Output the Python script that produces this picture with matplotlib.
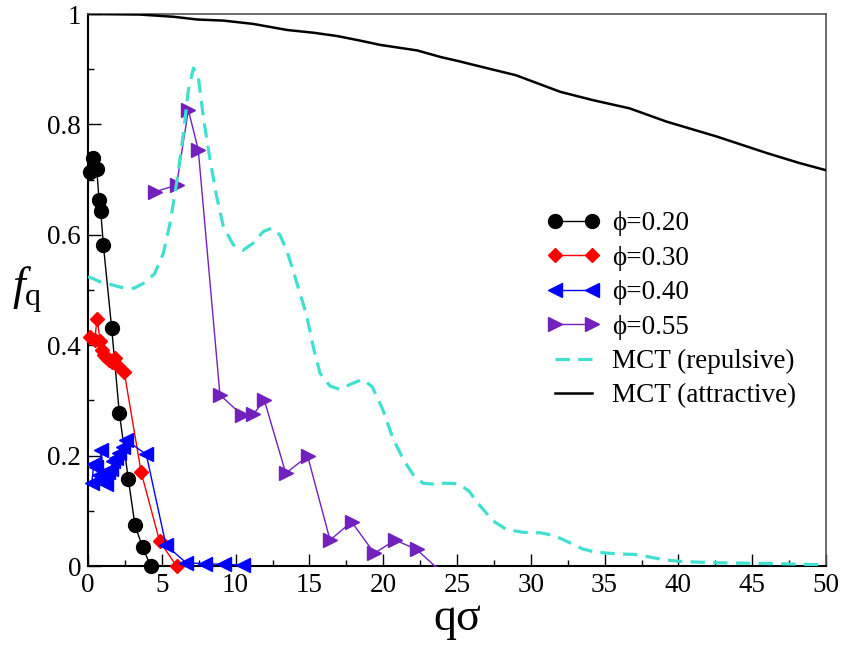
import numpy as np
import matplotlib
matplotlib.use("Agg")
import matplotlib.pyplot as plt

plt.rcParams['font.family'] = ['Liberation Serif', 'DejaVu Serif']
plt.rcParams['mathtext.fontset'] = 'custom'
plt.rcParams['mathtext.rm'] = 'Liberation Serif'
plt.rcParams['mathtext.it'] = 'Liberation Serif:italic'

# phi = 0.20
q_020 = [0.15, 0.32, 0.59, 0.75, 0.86, 1.04, 1.60, 2.12, 2.73, 3.18, 3.70, 4.25]
f_020 = [0.714, 0.740, 0.719, 0.663, 0.644, 0.582, 0.432, 0.278, 0.158, 0.074, 0.034, 0.0]

# phi = 0.30
q_030 = [0.15, 0.45, 0.62, 0.82, 0.95, 1.10, 1.25, 1.45, 1.65, 1.85, 2.05, 2.45, 3.60, 4.85, 6.00]
f_030 = [0.414, 0.410, 0.447, 0.408, 0.392, 0.383, 0.378, 0.374, 0.370, 0.377, 0.362, 0.352, 0.170, 0.045, 0.0]

# phi = 0.40
q_040 = [0.25, 0.40, 0.55, 0.75, 0.90, 1.05, 1.20, 1.35, 1.55, 1.70, 1.90, 2.10, 2.35, 2.60,
         3.95, 5.28, 6.64, 7.93, 9.20, 10.50]
f_040 = [0.150, 0.185, 0.180, 0.165, 0.210, 0.155, 0.148, 0.170, 0.175, 0.190, 0.195, 0.205, 0.215, 0.228,
         0.202, 0.038, 0.006, 0.004, 0.003, 0.002]

# phi = 0.55
q_055 = [4.54, 6.00, 6.80, 7.47, 8.94, 10.41, 11.20, 11.95, 13.40, 14.88, 16.40, 17.86,
         19.40, 20.80, 22.27, 23.90]
f_055 = [0.678, 0.690, 0.826, 0.754, 0.310, 0.274, 0.275, 0.300, 0.168, 0.199, 0.047, 0.080,
         0.023, 0.047, 0.030, -0.010]

# MCT repulsive
q_rep = [0.0, 0.4, 0.8, 1.3, 2.2, 3.1, 3.75, 4.5, 5.1, 5.56, 6.0, 6.46, 6.8, 7.14, 7.47, 7.81,
         8.27, 8.72, 9.17, 9.84, 10.5, 11.2, 11.88, 12.44, 13.0, 13.46, 13.9, 14.35, 14.8, 15.28,
         15.72, 16.4, 17.07, 17.85, 18.6, 19.25, 19.95, 20.65, 21.36, 22.04, 22.7, 23.5, 24.2,
         25.1, 25.8, 26.5, 27.43, 28.36, 29.5, 30.7, 31.6, 32.57, 33.5, 34.4, 35.84, 37.0, 37.9,
         39.1, 40.3, 42.4, 44.7, 47.1, 50.0]
f_rep = [0.524, 0.520, 0.515, 0.512, 0.505, 0.503, 0.512, 0.529, 0.566, 0.621, 0.693, 0.783,
         0.862, 0.902, 0.887, 0.814, 0.736, 0.669, 0.615, 0.582, 0.572, 0.585, 0.606, 0.612,
         0.600, 0.572, 0.535, 0.495, 0.455, 0.395, 0.349, 0.326, 0.320, 0.330, 0.338, 0.325,
         0.285, 0.232, 0.193, 0.165, 0.150, 0.148, 0.150, 0.149, 0.136, 0.111, 0.082, 0.066,
         0.061, 0.060, 0.055, 0.043, 0.031, 0.025, 0.022, 0.021, 0.017, 0.011, 0.008, 0.006,
         0.005, 0.004, 0.002]

# MCT attractive
q_att = [0.0, 3.5, 5.8, 7.4, 9.2, 11.2, 13.5, 15.3, 16.9, 18.4, 19.8, 22.3, 23.9, 25.2, 26.1,
         29.0, 32.0, 34.2, 36.7, 39.2, 42.6, 46.0, 48.2, 50.0]
f_att = [1.0, 0.999, 0.995, 0.990, 0.988, 0.982, 0.971, 0.966, 0.960, 0.952, 0.944, 0.934,
         0.922, 0.914, 0.908, 0.889, 0.859, 0.844, 0.829, 0.805, 0.778, 0.748, 0.730, 0.717]

x_ticks = [0, 5, 10, 15, 20, 25, 30, 35, 40, 45, 50]
y_ticks = [0, 0.2, 0.4, 0.6, 0.8, 1.0]
y_ticklabels = ['0', '0.2', '0.4', '0.6', '0.8', '1']

PURPLE = '#7221BC'
TURQ = '#40E0D0'
PHI = '\u03d5'

fig = plt.figure(figsize=(8.43, 6.45), dpi=100)
ax = fig.add_axes([88 / 843, 1 - 566 / 645, 738 / 843, 552 / 645])

ax.plot(q_020, f_020, '-o', color='black', lw=1.0, ms=10, clip_on=False, zorder=3, label=PHI + '=0.20')
ax.plot(q_030, f_030, '-D', color='red', lw=1.0, ms=7, clip_on=False, zorder=3, label=PHI + '=0.30')
ax.plot(q_040, f_040, '-<', color='blue', lw=1.0, ms=10, clip_on=False, zorder=3, label=PHI + '=0.40')
ax.plot(q_055, f_055, '->', color=PURPLE, lw=1.0, ms=10, zorder=3, label=PHI + '=0.55')
ax.plot(q_rep, f_rep, color=TURQ, lw=2.3, dashes=(4.5, 2.6), zorder=4, label='MCT (repulsive)')
ax.plot(q_att, f_att, color='black', lw=1.8, zorder=4, label='MCT (attractive)')

ax.set_xlim(0, 50)
ax.set_ylim(0, 1)
ax.set_xticks(x_ticks)
ax.set_xticks(np.arange(0, 50, 2.5), minor=True)
ax.set_yticks(y_ticks)
ax.set_yticklabels(y_ticklabels)
ax.set_yticks(np.arange(0, 1.0, 0.1), minor=True)
ax.tick_params(which='major', direction='in', length=9, width=1.0, labelsize=19.5, pad=5)
ax.tick_params(which='minor', direction='in', length=4.5, width=1.0)

for s in ['left', 'bottom']:
    ax.spines[s].set_linewidth(1.5)
for s in ['top', 'right']:
    ax.spines[s].set_linewidth(1.2)
    ax.spines[s].set_color('#555555')

ax.set_xlabel('q\u03c3', fontsize=33, labelpad=0)
ax.set_ylabel(r'$f_{\mathrm{q}}$', fontsize=33, rotation=0)
ax.yaxis.set_label_coords(-0.082, 0.455)

ax.legend(loc='upper left', bbox_to_anchor=(0.622, 0.643), frameon=False, numpoints=2,
          fontsize=19.5, handlelength=1.95, handletextpad=0.45, labelspacing=0.35,
          borderpad=0, borderaxespad=0)

fig.savefig('out.png', dpi=100)
